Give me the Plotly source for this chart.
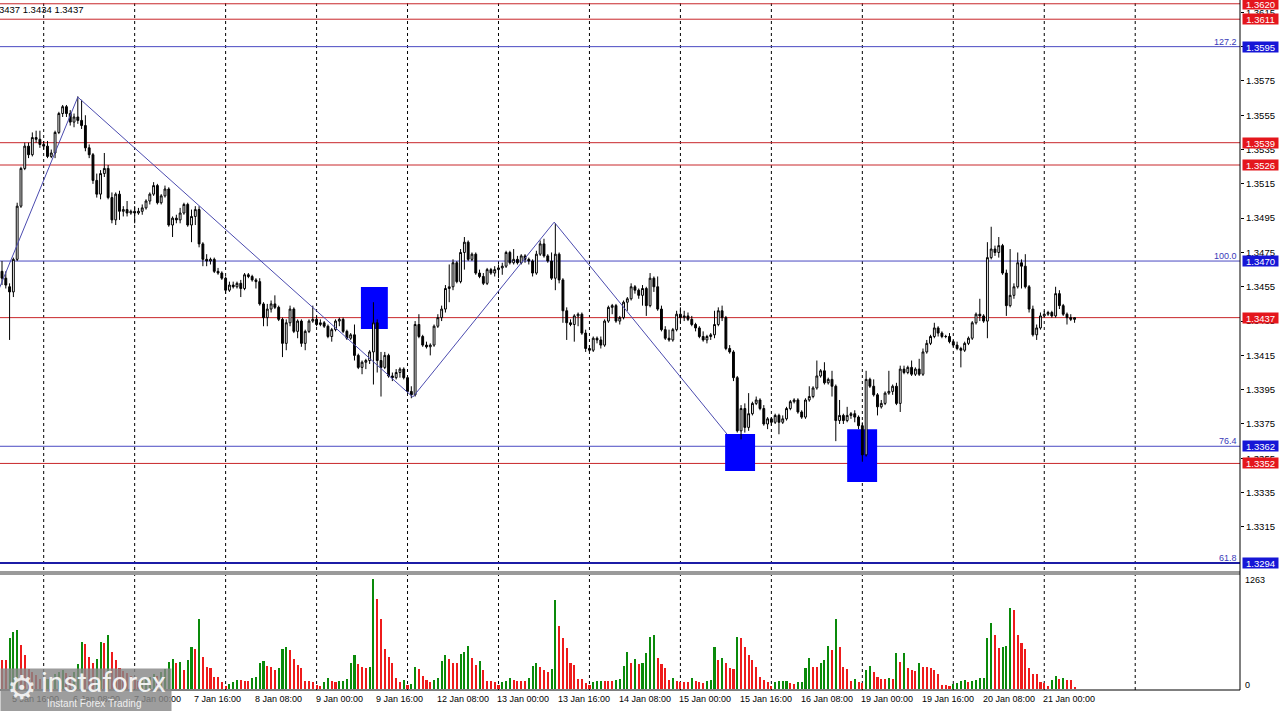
import plotly.graph_objects as go

# ---------------- data ----------------
opens = [
 1.3464,1.3460,1.3455,1.3452,1.3471,1.3502,1.3524,1.3537,1.3532,1.3542,
 1.3541,1.3538,1.3537,1.3531,1.3533,1.3545,1.3556,1.3560,1.3556,1.3551,
 1.3554,1.3552,1.3549,1.3536,1.3532,1.3517,1.3509,1.3521,1.3524,1.3507,
 1.3494,1.3509,1.3499,1.3500,1.3498,1.3499,1.3498,1.3499,1.3501,1.3505,
 1.3509,1.3514,1.3504,1.3508,1.3512,1.3491,1.3495,1.3494,1.3498,1.3503,
 1.3491,1.3496,1.3500,1.3480,1.3471,1.3470,1.3471,1.3464,1.3463,1.3460,
 1.3453,1.3456,1.3455,1.3457,1.3454,1.3462,1.3461,1.3459,1.3458,1.3445,
 1.3437,1.3442,1.3445,1.3443,1.3436,1.3422,1.3434,1.3442,1.3429,1.3435,
 1.3422,1.3429,1.3435,1.3436,1.3433,1.3434,1.3432,1.3426,1.3430,1.3435,
 1.3436,1.3429,1.3425,1.3427,1.3415,1.3408,1.3411,1.3412,1.3417,1.3434,
 1.3412,1.3408,1.3415,1.3403,1.3402,1.3405,1.3407,1.3402,1.3394,1.3392,
 1.3433,1.3426,1.3421,1.3420,1.3421,1.3432,1.3437,1.3442,1.3454,1.3455,
 1.3469,1.3458,1.3475,1.3481,1.3471,1.3474,1.3463,1.3461,1.3457,1.3465,
 1.3463,1.3465,1.3466,1.3467,1.3475,1.3469,1.3471,1.3469,1.3473,1.3471,
 1.3470,1.3463,1.3474,1.3480,1.3473,1.3470,1.3460,1.3474,1.3459,1.3441,
 1.3434,1.3433,1.3438,1.3439,1.3428,1.3419,1.3418,1.3425,1.3424,1.3421,
 1.3435,1.3443,1.3444,1.3435,1.3437,1.3446,1.3448,1.3455,1.3453,1.3450,
 1.3454,1.3444,1.3460,1.3455,1.3442,1.3430,1.3425,1.3424,1.3430,1.3439,
 1.3437,1.3438,1.3436,1.3433,1.3431,1.3426,1.3424,1.3426,1.3427,1.3433,
 1.3441,1.3437,1.3419,1.3417,1.3402,1.3371,1.3384,1.3373,1.3381,1.3387,
 1.3389,1.3384,1.3375,1.3378,1.3376,1.3380,1.3376,1.3378,1.3384,1.3388,
 1.3389,1.3382,1.3379,1.3389,1.3391,1.3396,1.3403,1.3406,1.3399,1.3401,
 1.3397,1.3377,1.3380,1.3377,1.3380,1.3381,1.3379,1.3374,1.3357,1.3401,
 1.3397,1.3392,1.3385,1.3387,1.3393,1.3394,1.3397,1.3387,1.3407,1.3405,
 1.3408,1.3404,1.3407,1.3404,1.3417,1.3422,1.3426,1.3431,1.3428,1.3426,
 1.3426,1.3423,1.3421,1.3419,1.3418,1.3422,1.3425,1.3434,1.3439,1.3438,
 1.3435,1.3472,1.3477,1.3475,1.3479,1.3463,1.3444,1.3450,1.3455,1.3469,
 1.3467,1.3455,1.3442,1.3427,1.3431,1.3438,1.3439,1.3440,1.3438,1.3451,
 1.3444,1.3439,1.3437,1.3436]

highs = [
 1.3470,1.3464,1.3457,1.3472,1.3504,1.3525,1.3539,1.3539,1.3545,1.3546,
 1.3546,1.3540,1.3540,1.3535,1.3546,1.3557,1.3561,1.3561,1.3558,1.3556,
 1.3566,1.3564,1.3555,1.3538,1.3533,1.3521,1.3523,1.3533,1.3526,1.3510,
 1.3510,1.3511,1.3502,1.3505,1.3500,1.3502,1.3501,1.3503,1.3506,1.3510,
 1.3516,1.3515,1.3509,1.3514,1.3513,1.3496,1.3497,1.3501,1.3504,1.3504,
 1.3500,1.3502,1.3502,1.3481,1.3474,1.3472,1.3472,1.3466,1.3464,1.3461,
 1.3458,1.3458,1.3458,1.3459,1.3463,1.3463,1.3462,1.3460,1.3460,1.3446,
 1.3445,1.3447,1.3450,1.3444,1.3437,1.3436,1.3444,1.3443,1.3436,1.3436,
 1.3430,1.3436,1.3444,1.3438,1.3436,1.3435,1.3433,1.3431,1.3436,1.3437,
 1.3437,1.3430,1.3428,1.3433,1.3416,1.3412,1.3413,1.3418,1.3446,1.3436,
 1.3417,1.3417,1.3416,1.3405,1.3407,1.3408,1.3408,1.3403,1.3397,1.3435,
 1.3439,1.3427,1.3423,1.3422,1.3433,1.3439,1.3444,1.3456,1.3468,1.3471,
 1.3470,1.3477,1.3484,1.3482,1.3475,1.3475,1.3465,1.3463,1.3466,1.3466,
 1.3467,1.3468,1.3469,1.3476,1.3476,1.3477,1.3473,1.3474,1.3474,1.3472,
 1.3471,1.3476,1.3482,1.3483,1.3474,1.3475,1.3492,1.3475,1.3460,1.3443,
 1.3436,1.3439,1.3440,1.3440,1.3430,1.3421,1.3426,1.3426,1.3426,1.3436,
 1.3444,1.3445,1.3445,1.3438,1.3447,1.3449,1.3457,1.3456,1.3454,1.3456,
 1.3455,1.3463,1.3461,1.3461,1.3444,1.3432,1.3430,1.3431,1.3441,1.3443,
 1.3441,1.3440,1.3438,1.3434,1.3432,1.3429,1.3427,1.3428,1.3441,1.3443,
 1.3444,1.3438,1.3421,1.3418,1.3403,1.3386,1.3387,1.3393,1.3388,1.3391,
 1.3390,1.3386,1.3379,1.3379,1.3381,1.3381,1.3380,1.3385,1.3389,1.3390,
 1.3390,1.3383,1.3390,1.3397,1.3397,1.3412,1.3407,1.3411,1.3402,1.3406,
 1.3398,1.3389,1.3381,1.3385,1.3382,1.3383,1.3380,1.3376,1.3406,1.3402,
 1.3401,1.3393,1.3389,1.3394,1.3406,1.3398,1.3399,1.3409,1.3409,1.3409,
 1.3412,1.3408,1.3413,1.3419,1.3424,1.3427,1.3434,1.3432,1.3429,1.3427,
 1.3428,1.3424,1.3423,1.3420,1.3423,1.3426,1.3435,1.3440,1.3448,1.3439,
 1.3481,1.3490,1.3479,1.3484,1.3480,1.3465,1.3477,1.3457,1.3475,1.3471,
 1.3474,1.3456,1.3444,1.3433,1.3440,1.3441,1.3441,1.3441,1.3455,1.3453,
 1.3445,1.3440,1.3439,1.3437]

lows = [
 1.3456,1.3454,1.3424,1.3449,1.3470,1.3501,1.3523,1.3530,1.3531,1.3539,
 1.3536,1.3535,1.3530,1.3530,1.3530,1.3544,1.3554,1.3554,1.3549,1.3548,
 1.3550,1.3547,1.3534,1.3530,1.3515,1.3507,1.3506,1.3519,1.3506,1.3492,
 1.3491,1.3494,1.3496,1.3496,1.3497,1.3492,1.3497,1.3497,1.3500,1.3503,
 1.3508,1.3503,1.3503,1.3507,1.3490,1.3484,1.3492,1.3492,1.3497,1.3490,
 1.3481,1.3491,1.3478,1.3467,1.3467,1.3468,1.3463,1.3462,1.3459,1.3451,
 1.3452,1.3454,1.3454,1.3449,1.3453,1.3460,1.3458,1.3454,1.3444,1.3432,
 1.3432,1.3440,1.3442,1.3435,1.3414,1.3418,1.3432,1.3428,1.3425,1.3420,
 1.3418,1.3428,1.3434,1.3432,1.3432,1.3431,1.3425,1.3423,1.3429,1.3432,
 1.3428,1.3424,1.3424,1.3412,1.3407,1.3404,1.3407,1.3410,1.3398,1.3405,
 1.3391,1.3407,1.3402,1.3400,1.3401,1.3402,1.3401,1.3393,1.3390,1.3391,
 1.3425,1.3420,1.3419,1.3415,1.3420,1.3431,1.3435,1.3440,1.3446,1.3453,
 1.3457,1.3457,1.3465,1.3470,1.3470,1.3462,1.3460,1.3456,1.3456,1.3462,
 1.3461,1.3460,1.3462,1.3466,1.3468,1.3468,1.3468,1.3468,1.3469,1.3468,
 1.3461,1.3462,1.3473,1.3472,1.3469,1.3459,1.3453,1.3457,1.3434,1.3424,
 1.3432,1.3423,1.3432,1.3427,1.3417,1.3417,1.3417,1.3422,1.3419,1.3420,
 1.3434,1.3439,1.3434,1.3433,1.3436,1.3441,1.3447,1.3451,1.3448,1.3444,
 1.3438,1.3443,1.3452,1.3441,1.3429,1.3424,1.3423,1.3423,1.3429,1.3434,
 1.3435,1.3435,1.3432,1.3429,1.3425,1.3423,1.3422,1.3424,1.3425,1.3432,
 1.3435,1.3418,1.3416,1.3400,1.3370,1.3366,1.3370,1.3371,1.3380,1.3386,
 1.3383,1.3374,1.3372,1.3374,1.3375,1.3369,1.3375,1.3377,1.3383,1.3387,
 1.3381,1.3378,1.3378,1.3388,1.3390,1.3395,1.3402,1.3398,1.3398,1.3391,
 1.3365,1.3375,1.3375,1.3376,1.3378,1.3376,1.3372,1.3353,1.3356,1.3396,
 1.3391,1.3380,1.3384,1.3386,1.3392,1.3392,1.3386,1.3382,1.3404,1.3404,
 1.3403,1.3403,1.3403,1.3403,1.3416,1.3421,1.3425,1.3426,1.3425,1.3425,
 1.3422,1.3420,1.3418,1.3408,1.3417,1.3421,1.3424,1.3433,1.3435,1.3434,
 1.3425,1.3471,1.3473,1.3472,1.3462,1.3438,1.3443,1.3448,1.3454,1.3454,
 1.3454,1.3440,1.3426,1.3424,1.3430,1.3437,1.3438,1.3437,1.3437,1.3442,
 1.3438,1.3433,1.3435,1.3434]

closes = [
 1.3460,1.3456,1.3452,1.3471,1.3502,1.3524,1.3537,1.3532,1.3542,1.3541,
 1.3538,1.3537,1.3531,1.3533,1.3545,1.3556,1.3560,1.3556,1.3551,1.3554,
 1.3552,1.3549,1.3536,1.3532,1.3517,1.3509,1.3521,1.3524,1.3507,1.3494,
 1.3509,1.3499,1.3500,1.3498,1.3499,1.3498,1.3499,1.3501,1.3505,1.3509,
 1.3514,1.3504,1.3508,1.3512,1.3491,1.3495,1.3494,1.3498,1.3503,1.3491,
 1.3496,1.3500,1.3480,1.3471,1.3470,1.3471,1.3464,1.3463,1.3460,1.3453,
 1.3456,1.3455,1.3457,1.3454,1.3462,1.3461,1.3459,1.3458,1.3445,1.3437,
 1.3442,1.3445,1.3443,1.3436,1.3422,1.3434,1.3442,1.3429,1.3435,1.3422,
 1.3429,1.3435,1.3436,1.3433,1.3434,1.3432,1.3426,1.3430,1.3435,1.3436,
 1.3429,1.3425,1.3427,1.3415,1.3408,1.3411,1.3412,1.3417,1.3434,1.3412,
 1.3408,1.3415,1.3403,1.3402,1.3405,1.3407,1.3402,1.3394,1.3392,1.3433,
 1.3426,1.3421,1.3420,1.3421,1.3432,1.3437,1.3442,1.3454,1.3455,1.3469,
 1.3458,1.3475,1.3481,1.3471,1.3474,1.3463,1.3461,1.3457,1.3465,1.3463,
 1.3465,1.3466,1.3467,1.3475,1.3469,1.3471,1.3469,1.3473,1.3471,1.3470,
 1.3463,1.3474,1.3480,1.3473,1.3470,1.3460,1.3474,1.3459,1.3441,1.3434,
 1.3433,1.3438,1.3439,1.3428,1.3419,1.3418,1.3425,1.3424,1.3421,1.3435,
 1.3443,1.3444,1.3435,1.3437,1.3446,1.3448,1.3455,1.3453,1.3450,1.3454,
 1.3444,1.3460,1.3455,1.3442,1.3430,1.3425,1.3424,1.3430,1.3439,1.3437,
 1.3438,1.3436,1.3433,1.3431,1.3426,1.3424,1.3426,1.3427,1.3433,1.3441,
 1.3437,1.3419,1.3417,1.3402,1.3371,1.3384,1.3373,1.3381,1.3387,1.3389,
 1.3384,1.3375,1.3378,1.3376,1.3380,1.3376,1.3378,1.3384,1.3388,1.3389,
 1.3382,1.3379,1.3389,1.3391,1.3396,1.3403,1.3406,1.3399,1.3401,1.3397,
 1.3377,1.3380,1.3377,1.3380,1.3381,1.3379,1.3374,1.3357,1.3401,1.3397,
 1.3392,1.3385,1.3387,1.3393,1.3394,1.3397,1.3387,1.3407,1.3405,1.3408,
 1.3404,1.3407,1.3404,1.3417,1.3422,1.3426,1.3431,1.3428,1.3426,1.3426,
 1.3423,1.3421,1.3419,1.3418,1.3422,1.3425,1.3434,1.3439,1.3438,1.3435,
 1.3472,1.3477,1.3475,1.3479,1.3463,1.3444,1.3450,1.3455,1.3469,1.3467,
 1.3455,1.3442,1.3427,1.3431,1.3438,1.3439,1.3440,1.3438,1.3451,1.3444,
 1.3439,1.3437,1.3436,1.3437]

volumes = [
 334,330,589,657,676,502,388,228,200,160,
 120,90,110,130,170,200,220,180,150,200,
 285,543,517,369,296,342,540,530,616,426,
 334,236,210,180,150,110,90,100,120,140,
 170,150,190,230,312,350,304,312,220,334,
 483,464,806,369,258,239,141,137,76,38,
 57,76,106,103,91,90,122,141,304,323,
 266,255,220,236,456,483,448,342,277,239,
 95,94,76,49,30,76,129,95,76,87,
 95,114,293,388,285,255,236,258,1263,1034,
 806,464,365,304,129,76,99,46,57,258,
 228,152,103,76,106,122,323,388,342,296,
 293,399,426,494,353,274,319,213,95,94,
 76,46,84,95,129,103,95,94,93,129,
 266,304,255,220,198,228,1026,722,589,467,
 293,281,114,113,68,46,84,87,91,90,
 88,87,103,114,266,429,293,350,285,296,
 418,597,623,353,289,243,103,125,87,85,
 80,76,125,95,84,65,87,106,486,334,
 357,293,239,235,600,581,483,388,334,258,
 133,106,76,30,84,87,91,95,65,62,
 76,84,243,361,258,255,293,334,494,445,
 806,483,258,228,95,114,76,68,217,266,
 190,133,114,112,125,114,410,312,418,236,
 220,209,300,255,250,239,220,167,49,48,
 38,57,68,87,103,76,87,103,125,129,
 589,760,616,475,486,494,927,912,616,524,
 456,243,171,167,76,65,38,106,148,114,
 129,103,100,19]

# time axis (bar index = hourly bar, 0 = 5 Jan 13:00)
tick_idx = [3, 19, 35, 51, 67, 83, 99, 115, 131, 147, 163, 179, 195, 211, 227, 243, 259, 275]
tick_text = ["5 Jan 16:00", "6 Jan 08:00", "7 Jan 00:00", "7 Jan 16:00", "8 Jan 08:00",
             "9 Jan 00:00", "9 Jan 16:00", "12 Jan 08:00", "13 Jan 00:00", "13 Jan 16:00",
             "14 Jan 08:00", "15 Jan 00:00", "15 Jan 16:00", "16 Jan 08:00", "19 Jan 00:00",
             "19 Jan 16:00", "20 Jan 08:00", "21 Jan 00:00"]
day_idx = [11, 35, 59, 83, 107, 131, 155, 179, 203, 227, 251, 275, 299]

price_ticks = [1.3315, 1.3335, 1.3355, 1.3375, 1.3395, 1.3415, 1.3435, 1.3455,
               1.3475, 1.3495, 1.3515, 1.3535, 1.3555, 1.3575, 1.3595, 1.3615]

red_levels = [1.3620, 1.3611, 1.3539, 1.3526, 1.3437, 1.3352]
blue_levels = [1.3595, 1.3470, 1.3362, 1.3294]
fib_text = ["127.2", "100.0", "76.4", "61.8"]

zz_idx = [-1, 20, 108.4, 145.7, 191.3]
zz_price = [1.34525, 1.35656, 1.33907, 1.34927, 1.33691]

rect_x0 = [94.7, 190.8, 223.0]
rect_x1 = [101.8, 198.7, 230.9]
rect_top = [1.34548, 1.33691, 1.33720]
rect_bot = [1.34304, 1.33476, 1.33412]

vol_label_vals = [1263, 0]
header_text = "1.3437 1.3434 1.3437"

# ---------------- styling / layout ----------------
FONT = "Liberation Sans"
GREEN = "#0A8A0A"
RED_V = "#EE1B1B"
W, H = 1280, 711
ML, MR, MT, MB = 0, 40, 0, 21
PW, PH = W - ML - MR, H - MT - MB


def py(pix):
    return (PH - pix) / PH


def px(pix):
    return pix / PW


n = len(opens)
bar_idx = list(range(n))
vol_colors = [GREEN if (k > 0 and v > volumes[k - 1]) else RED_V for k, v in enumerate(volumes)]

fig = go.Figure()
fig.add_trace(go.Candlestick(
    x=bar_idx, open=opens, high=highs, low=lows, close=closes,
    increasing=dict(line=dict(color="#000000", width=1), fillcolor="#FFFFFF"),
    decreasing=dict(line=dict(color="#000000", width=1), fillcolor="#000000"),
    whiskerwidth=0, xaxis="x", yaxis="y", showlegend=False, hoverinfo="skip"))
fig.add_trace(go.Scatter(
    x=zz_idx, y=zz_price, mode="lines", line=dict(color="#4B4BAF", width=1),
    xaxis="x", yaxis="y", showlegend=False, hoverinfo="skip"))
fig.add_trace(go.Bar(
    x=bar_idx, y=volumes, width=0.55, marker=dict(color=vol_colors, line=dict(width=0)),
    xaxis="x2", yaxis="y2", showlegend=False, hoverinfo="skip"))

shapes = []
for a, b, t, btm in zip(rect_x0, rect_x1, rect_top, rect_bot):
    shapes.append(dict(type="rect", xref="x", yref="y", x0=a, x1=b, y0=btm, y1=t,
                       fillcolor="#0000FF", line=dict(width=0), layer="below"))
for d in day_idx:
    shapes.append(dict(type="line", xref="x", yref="paper", x0=d, x1=d, y0=0, y1=1,
                       line=dict(color="#000000", width=1, dash="3px,3px"), layer="below"))
for lv in red_levels:
    shapes.append(dict(type="line", xref="paper", yref="y", x0=0, x1=1, y0=lv, y1=lv,
                       line=dict(color="#C8262A", width=1), layer="below"))
for k, lv in enumerate(blue_levels):
    thick = (k == len(blue_levels) - 1)
    shapes.append(dict(type="line", xref="paper", yref="y", x0=0, x1=1, y0=lv, y1=lv,
                       line=dict(color="#1C1CA6" if thick else "#4A4AC2", width=2 if thick else 1),
                       layer="below"))
# panel separator and frame
shapes.append(dict(type="rect", xref="paper", yref="paper", x0=0, x1=1, y0=py(575), y1=py(571),
                   fillcolor="#9A9A9A", line=dict(width=0), layer="above"))
shapes.append(dict(type="line", xref="paper", yref="paper", x0=1, x1=1, y0=0, y1=1,
                   line=dict(color="#000000", width=1), layer="above"))
shapes.append(dict(type="line", xref="paper", yref="paper", x0=0, x1=1, y0=0, y1=0,
                   line=dict(color="#000000", width=1), layer="above"))

ann = []
# level boxes on the price scale
for lv in red_levels:
    ann.append(dict(x=1, xref="paper", xanchor="left", xshift=2, y=lv, yref="y", yanchor="middle",
                    text=f"{lv:.4f}", showarrow=False, bgcolor="#E4161C", width=35, height=10,
                    borderpad=0, font=dict(family=FONT, size=9.5, color="#FFFFFF")))
for lv in blue_levels:
    ann.append(dict(x=1, xref="paper", xanchor="left", xshift=2, y=lv, yref="y", yanchor="middle",
                    text=f"{lv:.4f}", showarrow=False, bgcolor="#1616D6", width=35, height=10,
                    borderpad=0, font=dict(family=FONT, size=9.5, color="#FFFFFF")))
for lv, t in zip(blue_levels, fib_text):
    ann.append(dict(x=1, xref="paper", xanchor="right", xshift=-1, y=lv, yref="y", yanchor="bottom",
                    yshift=-2, text=t, showarrow=False,
                    font=dict(family=FONT, size=9, color="#3A3AB8")))
# volume scale labels
ann.append(dict(x=1, xref="paper", xanchor="left", xshift=3, y=py(580), yref="paper", yanchor="middle",
                text=str(vol_label_vals[0]), showarrow=False, font=dict(family=FONT, size=9, color="#000")))
ann.append(dict(x=1, xref="paper", xanchor="left", xshift=3, y=py(685), yref="paper", yanchor="middle",
                text=str(vol_label_vals[1]), showarrow=False, font=dict(family=FONT, size=9, color="#000")))
# time labels
for ti, tt in zip(tick_idx, tick_text):
    ann.append(dict(x=ti, xref="x", xanchor="left", xshift=-3, y=0, yref="paper", yanchor="top",
                    yshift=-2, text=tt, showarrow=False, font=dict(family=FONT, size=9, color="#000")))
# header (cut at left edge)
ann.append(dict(x=0, xref="paper", xanchor="left", xshift=-11, y=py(10), yref="paper", yanchor="middle",
                text=header_text, showarrow=False, font=dict(family=FONT, size=9.5, color="#000")))
# watermark logo
ann.append(dict(x=0, xref="paper", xanchor="left", y=py(668), yref="paper", yanchor="top",
                text=" ", showarrow=False, width=170, height=43, borderpad=0,
                bgcolor="rgba(135,135,135,0.82)"))
ann.append(dict(x=px(22), xref="paper", xanchor="center", y=py(687), yref="paper", yanchor="middle",
                text="\u2699", showarrow=False,
                font=dict(family="DejaVu Sans", size=33, color="rgba(255,255,255,0.85)")))
ann.append(dict(x=px(39), xref="paper", xanchor="left", y=py(682), yref="paper", yanchor="middle",
                text="instaforex", showarrow=False,
                font=dict(family="Roboto", size=28, color="rgba(255,255,255,0.9)")))
ann.append(dict(x=px(45), xref="paper", xanchor="left", y=py(703), yref="paper", yanchor="middle",
                text="Instant Forex Trading", showarrow=False,
                font=dict(family=FONT, size=10, color="rgba(255,255,255,0.85)")))

X0, X1 = -0.53, 326.65
fig.update_layout(
    width=W, height=H, margin=dict(l=ML, r=MR, t=MT, b=MB),
    paper_bgcolor="#FFFFFF", plot_bgcolor="#FFFFFF", showlegend=False,
    xaxis=dict(domain=[0, 1], range=[X0, X1], anchor="y", showticklabels=False, showgrid=False,
               zeroline=False, showline=False, ticks="", rangeslider=dict(visible=False), fixedrange=True),
    xaxis2=dict(domain=[0, 1], range=[X0, X1], anchor="y2", matches="x", showticklabels=False,
                showgrid=False, zeroline=False, showline=False, ticks="", fixedrange=True),
    yaxis=dict(domain=[py(572), 1], range=[1.32887, 1.36222], anchor="x", side="right",
               tickvals=price_ticks, ticktext=[f"{v:.4f}" for v in price_ticks],
               ticks="outside", ticklen=3, tickcolor="#000", tickwidth=1,
               tickfont=dict(family=FONT, size=9.5, color="#000"),
               showgrid=False, zeroline=False, showline=False, fixedrange=True),
    yaxis2=dict(domain=[0, py(577)], range=[-11.5, 1286], anchor="x2", side="right",
                showticklabels=False, ticks="", showgrid=False, zeroline=False, showline=False,
                fixedrange=True),
    bargap=0, shapes=shapes, annotations=ann,
)

fig.write_html("out.html", config={"displayModeBar": False},
               post_script="document.body.style.margin='0';document.body.style.padding='0';"
                           "document.body.style.overflow='hidden';")
